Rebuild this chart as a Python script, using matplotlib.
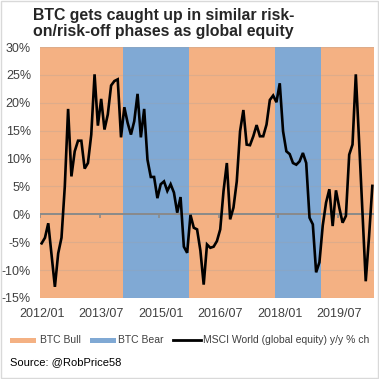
import matplotlib.pyplot as plt
import matplotlib.patches as mpatches
import matplotlib.lines as mlines
import pandas as pd

plt.rcParams['font.family'] = ['Liberation Sans', 'DejaVu Sans']

# monthly y/y % change of MSCI World, 2012/01 .. 2020/05
months = pd.date_range('2012-01-01', periods=101, freq='MS')
msci_yoy = [
    -5.2, -4.2, -1.6, -7.3, -13.0, -7.0, -4.2, 5.0, 18.9, 6.8,
    11.3, 13.2, 13.2, 8.2, 9.2, 14.3, 25.1, 15.9, 20.7, 15.2,
    17.9, 23.1, 23.9, 24.2, 13.8, 19.2, 16.4, 14.3, 16.7, 21.6,
    13.8, 18.9, 9.8, 6.7, 6.7, 2.9, 5.4, 5.9, 4.2, 5.4,
    3.9, 0.3, 3.1, -5.8, -6.9, -0.1, -2.4, -2.7, -6.5, -12.6,
    -5.4, -6.0, -5.8, -4.8, -2.7, 4.2, 9.2, -0.9, 1.2, 5.9,
    14.9, 18.7, 12.5, 12.4, 14.0, 16.0, 14.0, 14.0, 16.1, 20.5,
    21.3, 20.1, 23.5, 14.9, 11.3, 10.8, 9.2, 8.9, 9.5, 11.0,
    9.2, -0.6, -1.8, -10.4, -8.6, -2.0, 2.1, 4.5, -2.1, 4.3,
    1.2, -1.5, -0.3, 10.7, 12.5, 25.1, 13.0, 0.5, -12.0, -4.0,
    5.1,
]

# BTC regimes: (first month, last month, phase)
regimes = [
    ('2012-01', '2014-01', 'bull'),
    ('2014-02', '2015-09', 'bear'),
    ('2015-10', '2017-11', 'bull'),
    ('2017-12', '2019-01', 'bear'),
    ('2019-02', '2020-05', 'bull'),
]
tick_months = ['2012-01', '2013-07', '2015-01', '2016-07', '2018-01', '2019-07']
y_ticks = [30, 25, 20, 15, 10, 5, 0, -5, -10, -15]

bull_color = '#F4B183'
bear_color = '#80A9D4'
text_color = '#404040'

idx = {m.strftime('%Y-%m'): i for i, m in enumerate(months)}
x = list(range(len(months)))

W = 379.0
fig = plt.figure(figsize=(3.79, 3.79), dpi=100)
ax = fig.add_axes([40 / W, 1 - 298 / W, 334 / W, 251 / W])

for start, end, phase in regimes:
    ax.axvspan(idx[start] - 0.5, idx[end] + 0.5, color=bull_color if phase == 'bull' else bear_color,
               lw=0, zorder=0)

for v in y_ticks:
    if v != 0:
        ax.axhline(v, color='#a0a0a0', lw=0.8, alpha=0.25, zorder=1)

ax.axhline(0, color='#8a8a8a', lw=1.4, zorder=2)
tick_x = [idx[m] - 0.5 for m in tick_months]
ax.vlines(tick_x, -0.6, 0, color='#8a8a8a', lw=1.2, zorder=2)

ax.plot(x, msci_yoy, color='black', lw=1.9, zorder=3, solid_joinstyle='miter')

ax.set_xlim(-0.5, len(months) - 0.5)
ax.set_ylim(-15, 30)
ax.set_yticks(y_ticks)
ax.set_yticklabels([f'{v}%' for v in y_ticks])
ax.set_xticks([idx[m] for m in tick_months])
ax.set_xticklabels([m.replace('-', '/') for m in tick_months])
ax.tick_params(axis='both', length=0, labelsize=9, labelcolor=text_color)
ax.tick_params(axis='y', pad=6.5)
ax.tick_params(axis='x', pad=7)
for s in ax.spines.values():
    s.set_visible(False)

# title, two lines
title_lines = ['BTC gets caught up in similar risk-', 'on/risk-off phases as global equity']
for line, base in zip(title_lines, [20, 36]):
    fig.text(33 / W, 1 - base / W, line, fontsize=11.4, fontweight='bold', color='#262626',
             va='baseline', ha='left')

# legend, drawn by hand to follow the reference layout
leg_y = 1 - 340 / W
leg_size = 7.5
fig.patches.append(mpatches.Rectangle((10 / W, 1 - 342.5 / W), 26 / W, 5 / W, transform=fig.transFigure,
                                      color=bull_color, lw=0))
fig.text(40 / W, leg_y, 'BTC Bull', fontsize=leg_size, color=text_color, va='center', ha='left')
fig.patches.append(mpatches.Rectangle((90 / W, 1 - 342.5 / W), 26 / W, 5 / W, transform=fig.transFigure,
                                      color=bear_color, lw=0))
fig.text(118 / W, leg_y, 'BTC Bear', fontsize=leg_size, color=text_color, va='center', ha='left')
fig.lines.append(mlines.Line2D([173 / W, 201 / W], [leg_y, leg_y], transform=fig.transFigure,
                               color='black', lw=2))
fig.text(203 / W, leg_y, 'MSCI World (global equity) y/y % ch', fontsize=leg_size, color=text_color,
         va='center', ha='left')

fig.text(10 / W, 1 - 362 / W, 'Source: @RobPrice58', fontsize=8, color='black',
         va='center', ha='left')

fig.patches.append(mpatches.Rectangle((0.002, 0.002), 0.996, 0.996, transform=fig.transFigure,
                                      fill=False, edgecolor='#d9d9d9', lw=1))

plt.savefig('out.png', dpi=100)
